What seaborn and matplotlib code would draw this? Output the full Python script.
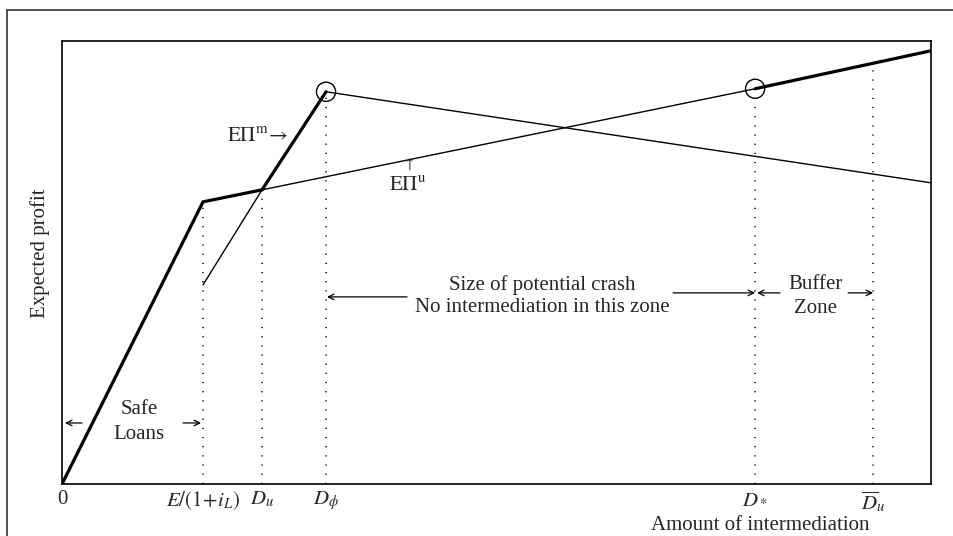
import numpy as np
import pandas as pd
import seaborn as sns
import matplotlib.pyplot as plt
from matplotlib.lines import Line2D

sns.set_style("white")
plt.rcParams['font.family'] = ['Liberation Serif', 'DejaVu Serif']
plt.rcParams['mathtext.fontset'] = 'stix'

# key points on the horizontal axis (amount of intermediation)
tick_pos = [0, 1.41, 2.00, 2.64, 6.93, 8.11]
tick_labels = ['0', r'$E/(1\!+\!i_L)$', r'$D_u$', r'$D_\phi$', r'$D_*$', r'$\overline{D}_u$']

# E Pi^u curve
u_x = [0, 1.41, 2.00, 6.93, 8.69]
u_y = [0, 2.82, 2.94, 3.95, 4.33]

# E Pi^m curve
m_x = [1.41, 2.00, 2.64, 8.69]
m_y = [1.99, 2.94, 3.92, 3.01]

# dotted guides
guide_x = [1.41, 2.00, 2.64, 6.93, 8.11]
guide_top = [2.82, 2.94, 3.92, 3.95, 4.14]

# circled points
circ_x = [2.64, 6.93]
circ_y = [3.92, 3.95]

fig = plt.figure(figsize=(9.54, 5.36), dpi=100)
ax = fig.add_axes([0.065, 0.097, 0.911, 0.827])

thick = 2.3
thin = 1.0

# thick upper envelope
sns.lineplot(x=u_x[:3], y=u_y[:3], ax=ax, color='black', linewidth=thick)
sns.lineplot(x=m_x[1:3], y=m_y[1:3], ax=ax, color='black', linewidth=thick)
sns.lineplot(x=u_x[3:], y=u_y[3:], ax=ax, color='black', linewidth=thick)
# thin parts
sns.lineplot(x=u_x[2:4], y=u_y[2:4], ax=ax, color='black', linewidth=thin)
sns.lineplot(x=m_x[:2], y=m_y[:2], ax=ax, color='black', linewidth=thin)
sns.lineplot(x=m_x[2:], y=m_y[2:], ax=ax, color='black', linewidth=thin)

for gx, gt in zip(guide_x, guide_top):
    ax.plot([gx, gx], [0, gt], color='black', linewidth=1.1,
            linestyle=(0, (0.8, 5.2)))

sns.scatterplot(x=circ_x, y=circ_y, ax=ax, s=190, marker='o',
                facecolor='none', edgecolor='black', linewidth=1.0, zorder=5)

ax.set_xlim(0, 8.69)
ax.set_ylim(0, 4.43)
ax.set_xticks(tick_pos)
ax.set_xticklabels(tick_labels, fontsize=15)
ax.set_yticks([])
ax.tick_params(axis='x', length=0, pad=4)
for s in ax.spines.values():
    s.set_color('black')
    s.set_linewidth(1.2)

fs = 15
ax.text(1.95, 3.47, r'$\mathrm{E\Pi^{m}}\!\rightarrow$', fontsize=fs, ha='center', va='center')
ax.text(3.46, 3.20, r'$\uparrow$', fontsize=11, ha='center', va='center')
ax.text(3.46, 2.98, r'$\mathrm{E\Pi^{u}}$', fontsize=fs, ha='center', va='center')

ax.text(0.77, 0.74, 'Safe', fontsize=fs, ha='center', va='center')
ax.text(0.77, 0.49, 'Loans', fontsize=fs, ha='center', va='center')
arr = dict(arrowstyle='->', color='black', lw=0.9, shrinkA=0, shrinkB=0)
ax.annotate('', xy=(0.03, 0.61), xytext=(0.20, 0.61), arrowprops=arr)
ax.annotate('', xy=(1.39, 0.61), xytext=(1.21, 0.61), arrowprops=arr)

ax.text(4.80, 1.99, 'Size of potential crash', fontsize=fs, ha='center', va='center')
ax.text(4.80, 1.76, 'No intermediation in this zone', fontsize=fs, ha='center', va='center')
ax.annotate('', xy=(2.65, 1.87), xytext=(3.45, 1.87), arrowprops=arr)
ax.annotate('', xy=(6.93, 1.91), xytext=(6.11, 1.91), arrowprops=arr)

ax.text(7.53, 1.99, 'Buffer', fontsize=fs, ha='center', va='center')
ax.text(7.53, 1.75, 'Zone', fontsize=fs, ha='center', va='center')
ax.annotate('', xy=(6.95, 1.91), xytext=(7.18, 1.91), arrowprops=arr)
ax.annotate('', xy=(8.11, 1.91), xytext=(7.86, 1.91), arrowprops=arr)

fig.text(760 / 954, 1 - 526 / 536, 'Amount of intermediation', fontsize=fs,
         ha='center', va='center')
fig.text(40 / 954, 1 - 253 / 536, 'Expected profit', fontsize=fs,
         ha='center', va='center', rotation=90)

# outer frame (left and top edges visible)
fig.add_artist(Line2D([7.5 / 954, 7.5 / 954], [0, 1 - 10 / 536], color='#333333', lw=1.2))
fig.add_artist(Line2D([7.5 / 954, 1], [1 - 10 / 536, 1 - 10 / 536], color='#333333', lw=1.2))

fig.savefig('out.png', dpi=100)
